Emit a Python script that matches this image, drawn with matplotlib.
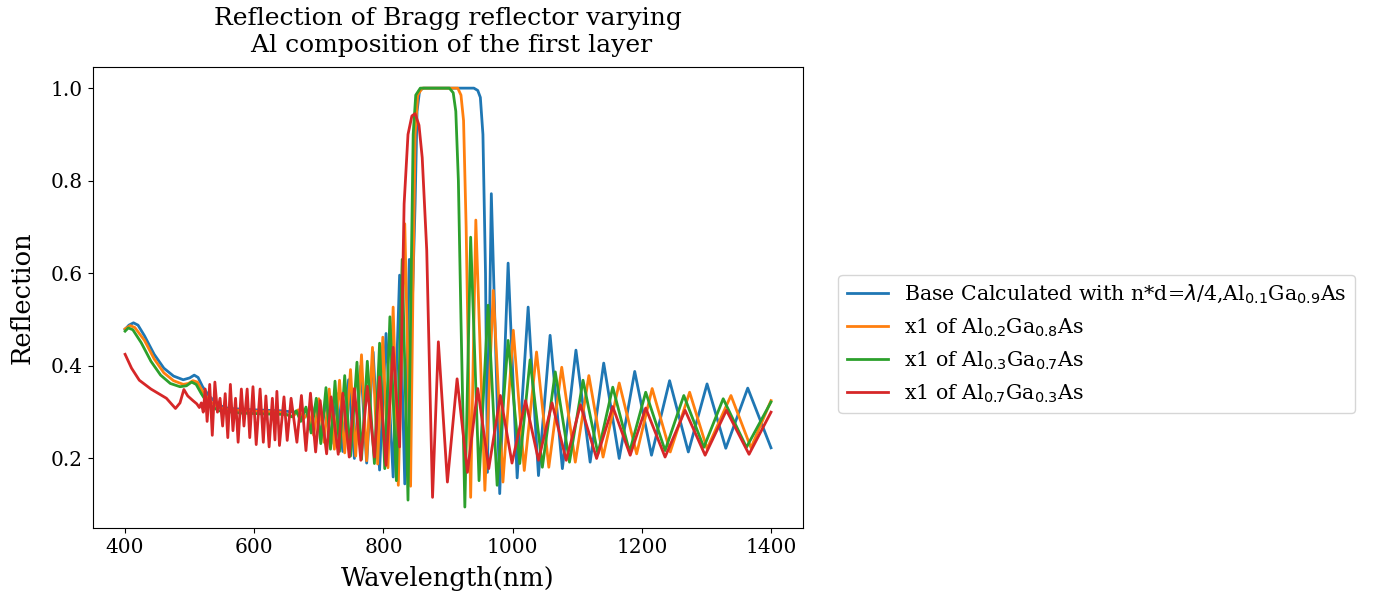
import numpy as np
import matplotlib
matplotlib.use("Agg")
import matplotlib.pyplot as plt

plt.rcParams['font.family'] = 'DejaVu Serif'

# base layer, Al0.1Ga0.9As
wl_base = [400, 406, 413, 420, 430, 445, 460, 475, 490, 500, 507, 513, 520, 530, 545, 560, 600, 640,
           665, 673, 680, 687, 695, 703, 711, 719, 728, 737, 746, 755, 765, 774, 784, 794, 804, 815,
           825, 833, 840, 845, 849, 852, 856, 862, 940, 946, 950, 954, 958, 961, 967, 980, 993, 1007,
           1024, 1040, 1058, 1077, 1098, 1120, 1141, 1165, 1189, 1215, 1243, 1272, 1301, 1330, 1364, 1400]
r_base = [0.479, 0.488, 0.493, 0.488, 0.465, 0.425, 0.395, 0.378, 0.370, 0.374, 0.380, 0.375, 0.355,
          0.335, 0.315, 0.308, 0.305, 0.303,
          0.300, 0.290, 0.307, 0.270, 0.315, 0.250, 0.325, 0.232, 0.340, 0.215, 0.370, 0.200, 0.400,
          0.190, 0.430, 0.175, 0.470, 0.160,
          0.596, 0.145, 0.630, 0.550, 0.750, 0.950, 0.995, 1.000, 1.000, 0.995, 0.980, 0.900, 0.600,
          0.170, 0.772, 0.124, 0.622, 0.158,
          0.527, 0.163, 0.466, 0.178, 0.434, 0.192, 0.406, 0.200, 0.388, 0.207, 0.368, 0.214, 0.361,
          0.222, 0.352, 0.223]

# Al0.2Ga0.8As
wl_02 = [400, 408, 415, 430, 445, 460, 475, 490, 498, 505, 512, 520, 530, 545, 560, 600, 640,
         660, 668, 676, 684, 692, 700, 708, 716, 724, 732, 740, 749, 757, 766, 774, 783, 791, 799,
         807, 815, 823, 833, 842, 846, 849, 853, 860, 915, 920, 924, 928, 935, 943, 957, 970, 985,
         1001, 1018, 1037, 1056, 1076, 1097, 1118, 1140, 1165, 1192, 1216, 1244, 1274, 1301, 1338,
         1369, 1400]
r_02 = [0.480, 0.487, 0.483, 0.455, 0.415, 0.385, 0.368, 0.360, 0.362, 0.368, 0.365, 0.345, 0.325,
        0.310, 0.305, 0.302, 0.300,
        0.290, 0.305, 0.285, 0.300, 0.250, 0.329, 0.235, 0.350, 0.220, 0.369, 0.212, 0.392, 0.205,
        0.424, 0.195, 0.440, 0.188, 0.462,
        0.180, 0.527, 0.142, 0.707, 0.140, 0.600, 0.900, 0.985, 1.000, 1.000, 0.985, 0.930, 0.700,
        0.116, 0.715, 0.131, 0.563, 0.149,
        0.477, 0.174, 0.430, 0.181, 0.397, 0.192, 0.379, 0.203, 0.363, 0.210, 0.351, 0.214, 0.343,
        0.221, 0.336, 0.223, 0.325]

# Al0.3Ga0.7As
wl_03 = [400, 405, 412, 425, 440, 455, 470, 485, 495, 503, 510, 518, 528, 545, 580, 620, 650,
         658, 665, 672, 680, 688, 696, 703, 711, 718, 725, 732, 740, 749, 759, 766, 775, 786, 794,
         802, 810, 820, 829, 838, 842, 846, 850, 857, 902, 908, 912, 916, 920, 926, 935, 948, 962,
         976, 993, 1011, 1027, 1046, 1066, 1088, 1109, 1132, 1155, 1181, 1206, 1236, 1265, 1296,
         1326, 1362, 1400]
r_03 = [0.475, 0.482, 0.478, 0.450, 0.410, 0.380, 0.362, 0.355, 0.357, 0.365, 0.360, 0.340, 0.318,
        0.303, 0.298, 0.296, 0.295,
        0.290, 0.303, 0.280, 0.311, 0.255, 0.330, 0.232, 0.353, 0.220, 0.367, 0.215, 0.379, 0.205,
        0.408, 0.198, 0.410, 0.189, 0.449,
        0.178, 0.506, 0.152, 0.630, 0.110, 0.500, 0.900, 0.985, 1.000, 1.000, 0.990, 0.950, 0.800,
        0.500, 0.095, 0.678, 0.152, 0.531,
        0.142, 0.455, 0.189, 0.413, 0.181, 0.387, 0.192, 0.369, 0.210, 0.354, 0.214, 0.343, 0.217,
        0.336, 0.224, 0.329, 0.224, 0.322]

# Al0.7Ga0.3As
wl_07 = [400, 410, 422, 440, 464, 478, 485, 491, 497, 505, 511, 515, 518, 521, 524, 527, 531, 535,
         539, 543, 547, 551, 555, 559, 563, 567, 571, 575, 580, 584, 589, 593, 598, 603, 609, 614,
         618, 623, 628, 632, 635, 639, 646, 651, 657, 666, 673, 680, 687, 695, 702, 712, 719, 730,
         737, 747, 755, 765, 775, 786, 794, 804, 815, 825, 828, 832, 838, 844, 849, 855, 860, 867,
         872, 876, 885, 899, 914, 930, 946, 963, 981, 999, 1020, 1040, 1061, 1083, 1105, 1130, 1155,
         1182, 1206, 1236, 1267, 1298, 1331, 1366, 1400]
r_07 = [0.425, 0.395, 0.369, 0.350, 0.330, 0.308, 0.320, 0.349, 0.335, 0.325, 0.318, 0.310, 0.320,
        0.300, 0.350, 0.280, 0.360, 0.250,
        0.365, 0.300, 0.330, 0.270, 0.340, 0.245, 0.360, 0.260, 0.330, 0.235, 0.350, 0.270, 0.350,
        0.245, 0.355, 0.230, 0.350, 0.235,
        0.335, 0.225, 0.330, 0.240, 0.345, 0.228, 0.333, 0.239, 0.330, 0.235, 0.336, 0.217, 0.341,
        0.214, 0.325, 0.210, 0.333, 0.209,
        0.341, 0.203, 0.351, 0.196, 0.356, 0.203, 0.376, 0.185, 0.440, 0.225, 0.450, 0.750, 0.900,
        0.940, 0.945, 0.920, 0.850, 0.650,
        0.350, 0.116, 0.452, 0.149, 0.372, 0.170, 0.351, 0.178, 0.336, 0.190, 0.325, 0.196, 0.320,
        0.196, 0.316, 0.200, 0.312,
        0.207, 0.309, 0.203, 0.304, 0.207, 0.304, 0.209, 0.300]

labels = [r'Base Calculated with n*d=$\lambda$/4,Al$_{0.1}$Ga$_{0.9}$As',
          r'x1 of Al$_{0.2}$Ga$_{0.8}$As',
          r'x1 of Al$_{0.3}$Ga$_{0.7}$As',
          r'x1 of Al$_{0.7}$Ga$_{0.3}$As']

fig = plt.figure(figsize=(13.85, 6), dpi=100)
ax = fig.add_axes([0.067, 0.12, 0.513, 0.768])

ax.plot(wl_base, r_base, lw=2, label=labels[0])
ax.plot(wl_02, r_02, lw=2, label=labels[1])
ax.plot(wl_03, r_03, lw=2, label=labels[2])
ax.plot(wl_07, r_07, lw=2, label=labels[3])

ax.set_title('Reflection of Bragg reflector varying\n Al composition of the first layer',
             fontsize=18, pad=11)
ax.set_xlabel('Wavelength(nm)', fontsize=18.5, labelpad=7)
ax.set_ylabel('Reflection', fontsize=18.5, labelpad=12)
ax.tick_params(labelsize=14.5)
ax.legend(loc='center left', bbox_to_anchor=(1.035, 0.4), fontsize=14.8)

fig.savefig('out.png', dpi=100)
